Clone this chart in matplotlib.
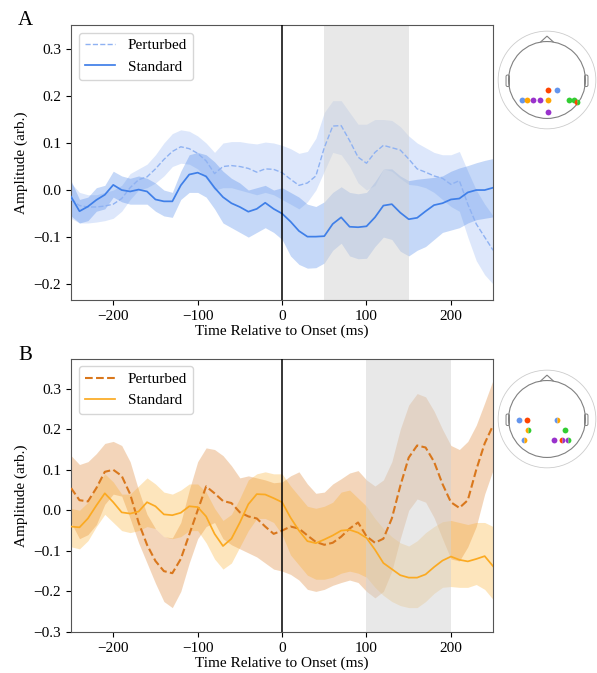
import numpy as np
import matplotlib
matplotlib.use('Agg')
import matplotlib.pyplot as plt
from matplotlib.patches import Circle, Polygon, FancyBboxPatch

plt.rcParams['font.family'] = ['Liberation Serif', 'DejaVu Serif']
plt.rcParams['font.size'] = 11

# time axis, 10 ms steps
time_ms = np.arange(-250, 251, 10)

# ---- panel A (blue) ----
a_std_mean = [-0.014, -0.045, -0.035, -0.021, -0.01, 0.011, 0.0, -0.003, 0.001, -0.003, -0.02, -0.024, -0.024,
              0.01, 0.033, 0.037, 0.029, 0.005, -0.015, -0.028, -0.036, -0.046, -0.04, -0.027, -0.04, -0.05,
              -0.067, -0.087, -0.099, -0.099, -0.098, -0.072, -0.058, -0.078, -0.079, -0.077, -0.058, -0.033,
              -0.03, -0.048, -0.062, -0.059, -0.045, -0.032, -0.028, -0.02, -0.018, -0.005, 0.0, 0.0, 0.005]
a_std_upper = [0.02, -0.02, -0.015, 0.005, 0.01, 0.04, 0.03, 0.025, 0.03, 0.025, 0.015, 0.0, -0.005,
               0.04, 0.075, 0.08, 0.075, 0.06, 0.04, 0.025, 0.015, 0.0, 0.005, 0.01, 0.0, 0.005,
               -0.005, -0.015, -0.03, -0.035, -0.025, -0.005, 0.007, -0.005, -0.008, -0.005, 0.018, 0.045,
               0.045, 0.03, 0.02, 0.023, 0.025, 0.027, 0.03, 0.04, 0.047, 0.052, 0.058, 0.063, 0.067]
a_std_lower = [-0.055, -0.07, -0.065, -0.045, -0.04, -0.015, -0.025, -0.03, -0.03, -0.03, -0.045, -0.055, -0.058,
               -0.02, -0.005, -0.005, -0.015, -0.04, -0.07, -0.08, -0.09, -0.1, -0.09, -0.08, -0.09, -0.105,
               -0.14, -0.158, -0.166, -0.165, -0.155, -0.128, -0.113, -0.14, -0.146, -0.145, -0.12, -0.1,
               -0.105, -0.13, -0.14, -0.128, -0.12, -0.105, -0.09, -0.085, -0.08, -0.07, -0.063, -0.06, -0.057]

a_pert_mean = [-0.02, -0.033, -0.036, -0.036, -0.034, -0.03, -0.018, 0.005, 0.022, 0.028, 0.045, 0.065, 0.082,
               0.092, 0.088, 0.078, 0.062, 0.035, 0.05, 0.052, 0.05, 0.046, 0.038, 0.045, 0.044, 0.037,
               0.023, 0.01, 0.015, 0.03, 0.09, 0.136, 0.137, 0.105, 0.07, 0.057, 0.08, 0.095,
               0.09, 0.085, 0.066, 0.045, 0.038, 0.03, 0.025, 0.012, 0.02, -0.03, -0.072, -0.1, -0.128]
a_pert_upper = [0.015, -0.005, -0.01, -0.01, -0.005, 0.0, 0.01, 0.035, 0.045, 0.055, 0.075, 0.1, 0.12,
                0.128, 0.125, 0.115, 0.1, 0.08, 0.1, 0.103, 0.103, 0.1, 0.098, 0.102, 0.1, 0.095,
                0.088, 0.078, 0.082, 0.11, 0.165, 0.19, 0.19, 0.165, 0.14, 0.14, 0.15, 0.15,
                0.148, 0.135, 0.115, 0.1, 0.09, 0.08, 0.075, 0.075, 0.082, 0.04, 0.0, -0.03, -0.055]
a_pert_lower = [-0.06, -0.07, -0.07, -0.068, -0.065, -0.06, -0.045, -0.02, 0.0, 0.005, 0.015, 0.03, 0.05,
                0.057, 0.055, 0.045, 0.025, 0.0, 0.005, 0.005, 0.0, -0.005, -0.01, -0.005, -0.01, -0.02,
                -0.03, -0.04, -0.025, 0.0, 0.04, 0.08, 0.075, 0.05, 0.015, 0.0, 0.01, 0.045,
                0.04, 0.025, 0.012, 0.01, 0.005, -0.005, -0.02, -0.035, -0.045, -0.1, -0.15, -0.18, -0.2]

# ---- panel B (orange) ----
b_std_mean = [-0.04, -0.042, -0.02, 0.012, 0.042, 0.02, -0.005, -0.008, -0.003, 0.02, 0.01, -0.01, -0.012,
              -0.006, 0.01, 0.008, -0.015, -0.058, -0.088, -0.07, -0.03, 0.015, 0.04, 0.039, 0.03, 0.02,
              -0.018, -0.05, -0.076, -0.081, -0.072, -0.062, -0.05, -0.048, -0.055, -0.068, -0.097, -0.13,
              -0.145, -0.16, -0.166, -0.166, -0.158, -0.14, -0.124, -0.114, -0.122, -0.126, -0.12, -0.113, -0.138]
b_std_upper = [0.005, 0.0, 0.02, 0.06, 0.09, 0.07, 0.04, 0.04, 0.06, 0.08, 0.065, 0.045, 0.04,
               0.05, 0.065, 0.065, 0.045, 0.005, -0.025, -0.01, 0.03, 0.075, 0.09, 0.095, 0.09, 0.09,
               0.06, 0.035, 0.01, 0.005, 0.01, 0.02, 0.045, 0.05, 0.03, 0.01, -0.02, -0.045,
               -0.065, -0.08, -0.088, -0.075, -0.055, -0.04, -0.028, -0.025, -0.03, -0.035, -0.03, -0.03, -0.04]
b_std_lower = [-0.09, -0.095, -0.075, -0.04, -0.01, -0.03, -0.05, -0.055, -0.05, -0.04, -0.045, -0.065, -0.07,
               -0.065, -0.05, -0.05, -0.08, -0.12, -0.145, -0.13, -0.09, -0.05, -0.02, -0.02, -0.03, -0.06,
               -0.11, -0.135, -0.16, -0.17, -0.17, -0.165, -0.155, -0.15, -0.155, -0.165, -0.19, -0.21,
               -0.225, -0.235, -0.24, -0.24, -0.225, -0.205, -0.19, -0.188, -0.19, -0.19, -0.183, -0.195, -0.22]

b_pert_mean = [0.055, 0.025, 0.022, 0.055, 0.095, 0.1, 0.085, 0.04, -0.03, -0.085, -0.125, -0.15, -0.155,
               -0.12, -0.06, 0.0, 0.059, 0.042, 0.023, 0.018, -0.005, -0.015, -0.02, -0.04, -0.058, -0.05,
               -0.04, -0.045, -0.062, -0.078, -0.085, -0.08, -0.065, -0.045, -0.03, -0.064, -0.08, -0.07,
               -0.02, 0.06, 0.13, 0.16, 0.155, 0.12, 0.065, 0.02, 0.006, 0.025, 0.1, 0.165, 0.21]
b_pert_upper = [0.135, 0.113, 0.12, 0.14, 0.165, 0.17, 0.16, 0.12, 0.05, -0.01, -0.045, -0.065, -0.068,
                -0.03, 0.05, 0.12, 0.154, 0.15, 0.135, 0.11, 0.08, 0.085, 0.08, 0.075, 0.068, 0.07,
                0.085, 0.095, 0.065, 0.042, 0.045, 0.065, 0.078, 0.092, 0.098, 0.075, 0.06, 0.075,
                0.12, 0.2, 0.26, 0.288, 0.28, 0.245, 0.2, 0.16, 0.15, 0.17, 0.21, 0.265, 0.322]
b_pert_lower = [-0.03, -0.07, -0.06, -0.035, 0.015, 0.04, 0.035, -0.02, -0.08, -0.13, -0.18, -0.225, -0.24,
                -0.2, -0.13, -0.07, -0.04, -0.03, -0.07, -0.085, -0.095, -0.105, -0.115, -0.13, -0.145, -0.15,
                -0.158, -0.172, -0.195, -0.2, -0.195, -0.185, -0.178, -0.172, -0.178, -0.2, -0.216, -0.2,
                -0.15, -0.07, 0.0, 0.028, 0.02, -0.018, -0.07, -0.12, -0.125, -0.09, -0.04, 0.04, 0.1]

# electrode dots on the head maps (x, y, colour, second colour or None)
blue, orange, purple, red, green = '#6495ed', '#ffa500', '#9932cc', '#ff4500', '#32cd32'
a_dots = [(0.03, -0.27, red, None), (0.27, -0.27, blue, None),
          (-0.64, -0.51, blue, None), (-0.51, -0.51, orange, None), (-0.36, -0.51, purple, None),
          (-0.17, -0.51, purple, None), (0.03, -0.51, orange, None), (0.56, -0.51, green, None),
          (0.69, -0.52, green, None), (0.78, -0.57, red, green), (0.03, -0.83, purple, None)]
b_dots = [(-0.72, -0.03, blue, None), (-0.53, -0.03, red, None), (0.25, -0.03, blue, orange),
          (-0.49, -0.29, orange, green), (0.47, -0.29, green, None),
          (-0.59, -0.54, blue, orange), (0.19, -0.54, purple, None), (0.38, -0.54, red, purple),
          (0.55, -0.54, purple, green)]


def draw_panel(ax, pert, std, pert_color, std_color, span, ylim, yticks, dash_lw):
    t = time_ms
    ax.fill_between(t, pert[2], pert[1], color=pert_color, alpha=0.3, linewidth=0, zorder=1)
    ax.fill_between(t, std[2], std[1], color=std_color, alpha=0.3, linewidth=0, zorder=1)
    ax.axvspan(span[0], span[1], color='lightgray', alpha=0.5, linewidth=0, zorder=2)
    ax.plot(t, pert[0], '--', color=pert_color, lw=dash_lw, label='Perturbed', zorder=3)
    ax.plot(t, std[0], '-', color=std_color, lw=1.25, label='Standard', zorder=3)
    ax.axvline(0, color='black', lw=1.1, zorder=4)
    ax.set_xlim(-250, 250)
    ax.set_ylim(ylim)
    ax.set_xticks([-200, -100, 0, 100, 200])
    ax.set_yticks(yticks)
    ax.set_xlabel('Time Relative to Onset (ms)', labelpad=1)
    ax.set_ylabel('Amplitude (arb.)')
    for s in ax.spines.values():
        s.set_color('#555555')
    ax.legend(loc='upper left')


def draw_head(ax, dots):
    ax.set_xlim(-1.3, 1.3)
    ax.set_ylim(-1.3, 1.3)
    ax.set_aspect('equal')
    ax.axis('off')
    ax.add_patch(Circle((0, 0), 1.27, fill=False, ec='#cccccc', lw=0.6))
    ax.add_patch(Circle((0, 0), 1.0, fill=False, ec='#808080', lw=0.8))
    ax.add_patch(Polygon([[-0.17, 0.985], [0, 1.14], [0.17, 0.985]], closed=False, fill=False,
                         ec='#808080', lw=0.8))
    for sx in (-1, 1):
        ax.add_patch(FancyBboxPatch((sx * 1.02 - 0.045, -0.17), 0.09, 0.3,
                                    boxstyle='round,pad=0,rounding_size=0.04',
                                    fill=False, ec='#808080', lw=0.7))
    for x, y, c1, c2 in dots:
        if c2 is None:
            ax.plot(x, y, 'o', ms=4.2, color=c1, mec='none')
        else:
            ax.plot(x, y, 'o', ms=4.2, fillstyle='left', markerfacecolor=c1,
                    markerfacecoloralt=c2, mec='none')


def main():
    fig = plt.figure(figsize=(5.97, 6.73), dpi=100)
    ax_a = fig.add_axes([0.119, 0.554, 0.707, 0.409])
    ax_b = fig.add_axes([0.119, 0.061, 0.707, 0.406])

    draw_panel(ax_a, (a_pert_mean, a_pert_upper, a_pert_lower), (a_std_mean, a_std_upper, a_std_lower),
               '#8fb2f2', '#3f7fe8', (50, 150), (-0.234, 0.351), [-0.2, -0.1, 0.0, 0.1, 0.2, 0.3], 1.0)
    draw_panel(ax_b, (b_pert_mean, b_pert_upper, b_pert_lower), (b_std_mean, b_std_upper, b_std_lower),
               '#d9771c', '#fbaa22', (100, 200), (-0.3, 0.374), [-0.3, -0.2, -0.1, 0.0, 0.1, 0.2, 0.3], 1.5)

    fig.text(0.03, 0.97, 'A', fontsize=15, va='center')
    fig.text(0.03, 0.4725, 'B', fontsize=15, va='center')

    head_a = fig.add_axes([497 / 597, (673 - 80 - 50) / 673, 100 / 597, 100 / 673])
    draw_head(head_a, a_dots)
    head_b = fig.add_axes([497 / 597, (673 - 419 - 50) / 673, 100 / 597, 100 / 673])
    draw_head(head_b, b_dots)

    fig.savefig('out.png', dpi=100)


if __name__ == '__main__':
    main()
